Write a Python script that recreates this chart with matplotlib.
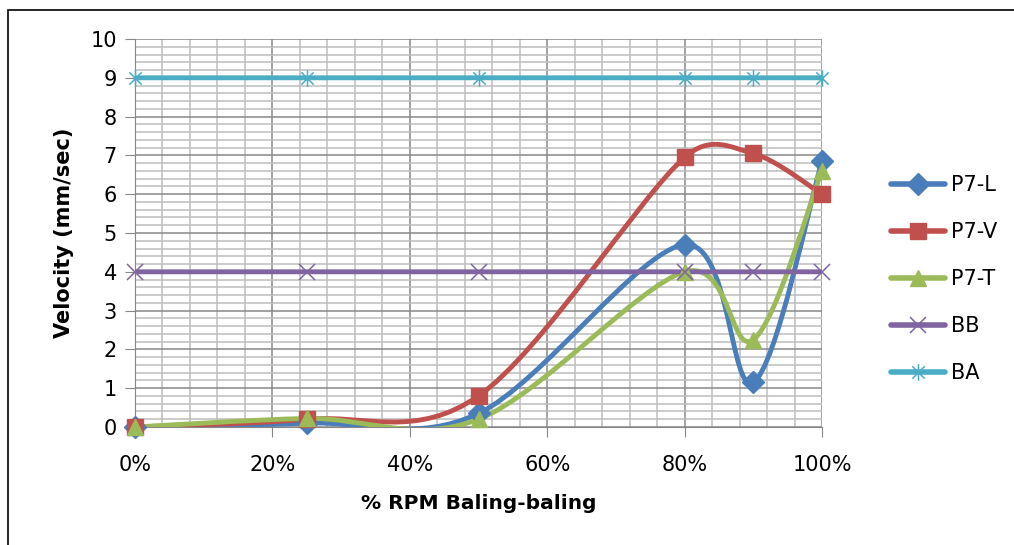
import numpy as np
import matplotlib
matplotlib.use("Agg")
import matplotlib.pyplot as plt
from matplotlib.path import Path
from matplotlib.patches import PathPatch, Rectangle
from matplotlib.lines import Line2D
from matplotlib.ticker import MultipleLocator, FuncFormatter

rpm = [0, 25, 50, 80, 90, 100]
p7_l = [0.0, 0.1, 0.35, 4.7, 1.15, 6.85]
p7_v = [0.0, 0.2, 0.8, 6.95, 7.05, 6.0]
p7_t = [0.0, 0.22, 0.2, 4.0, 2.25, 6.6]
bb = [4, 4, 4, 4, 4, 4]
ba = [9, 9, 9, 9, 9, 9]
names = ["P7-L", "P7-V", "P7-T", "BB", "BA"]
colors = ["#4A7EBB", "#C0504D", "#9BBB59", "#8064A2", "#4BACC6"]

# asterisk marker like excel's star: x plus vertical stroke
star = Path([(-1, -1), (1, 1), (-1, 1), (1, -1), (0, -1.35), (0, 1.35)],
            [Path.MOVETO, Path.LINETO, Path.MOVETO, Path.LINETO, Path.MOVETO, Path.LINETO])
markers = ["D", "s", "^", "x", star]
msizes = [11, 11, 12, 12, 12]

# pixel size of one data unit, used so the smoothing works in screen space like excel
px_x = 687 / 100
px_y = 388 / 10


def smooth_path(xs, ys):
    # excel-style smoothed line: bezier segments, control arms limited to half the segment
    pts = np.column_stack([np.array(xs) * px_x, np.array(ys) * px_y]).astype(float)
    n = len(pts)
    verts = [pts[0]]
    codes = [Path.MOVETO]
    for i in range(n - 1):
        p0 = pts[max(i - 1, 0)]
        p1 = pts[i]
        p2 = pts[i + 1]
        p3 = pts[min(i + 2, n - 1)]
        d12 = np.hypot(*(p2 - p1))
        d02 = np.hypot(*(p2 - p0))
        d13 = np.hypot(*(p3 - p1))
        f1 = 1 / 6 if d02 / 6 < d12 / 2 else d12 / (2 * d02)
        f2 = 1 / 6 if d13 / 6 < d12 / 2 else d12 / (2 * d13)
        c1 = p1 + f1 * (p2 - p0)
        c2 = p2 - f2 * (p3 - p1)
        verts += [c1, c2, p2]
        codes += [Path.CURVE4] * 3
    verts = np.array(verts) / [px_x, px_y]
    return Path(verts, codes)


fig = plt.figure(figsize=(10.14, 5.45), dpi=100)
fig.patches.append(Rectangle((8 / 1014, -0.1), 1.2, 1 - 10 / 545 + 0.1, transform=fig.transFigure,
                             fill=False, edgecolor="black", linewidth=1.2))
ax = fig.add_axes([135 / 1014, 1 - 427 / 545, 687 / 1014, 388 / 545])

ax.set_xlim(0, 100)
ax.set_ylim(0, 10)
ax.xaxis.set_major_locator(MultipleLocator(20))
ax.xaxis.set_minor_locator(MultipleLocator(4))
ax.yaxis.set_major_locator(MultipleLocator(1))
ax.yaxis.set_minor_locator(MultipleLocator(0.2))
ax.xaxis.set_major_formatter(FuncFormatter(lambda v, p: f"{int(v)}%"))
ax.grid(which="minor", color="#BDBDBD", linewidth=1.1)
ax.grid(which="major", color="#888888", linewidth=1.1)
ax.set_axisbelow(True)
for s in ["top", "right"]:
    ax.spines[s].set_visible(False)
for s in ["left", "bottom"]:
    ax.spines[s].set_color("#868686")
ax.tick_params(which="major", length=7, color="#868686", labelsize=15)
ax.tick_params(axis="x", pad=13)
ax.tick_params(axis="y", pad=6)
ax.tick_params(which="minor", length=0)

series = [p7_l, p7_v, p7_t, bb, ba]
handles = []
for vals, name, c, m, ms in zip(series, names, colors, markers, msizes):
    ax.add_patch(PathPatch(smooth_path(rpm, vals), fill=False, edgecolor=c, linewidth=3.5,
                           capstyle="round", joinstyle="round", zorder=3))
    mew = 1.1 if (m == "x" or m is star) else 1
    ax.plot(rpm, vals, linestyle="none", marker=m, markersize=ms, color=c,
            markeredgewidth=mew, zorder=4, clip_on=False)
    handles.append(Line2D([], [], color=c, linewidth=4, marker=m, markersize=ms,
                          markeredgewidth=mew, solid_capstyle="round"))

ax.set_xlabel("% RPM Baling-baling", fontsize=14.5, fontweight="bold", labelpad=14)
ax.set_ylabel("Velocity (mm/sec)", fontsize=15, fontweight="bold", labelpad=12)

fig.legend(handles, names, loc="center left", bbox_to_anchor=(872 / 1014, 1 - 279 / 545),
           frameon=False, fontsize=15, handlelength=2.6, labelspacing=1.3, handletextpad=0.3)

fig.savefig("out.png", dpi=100)
